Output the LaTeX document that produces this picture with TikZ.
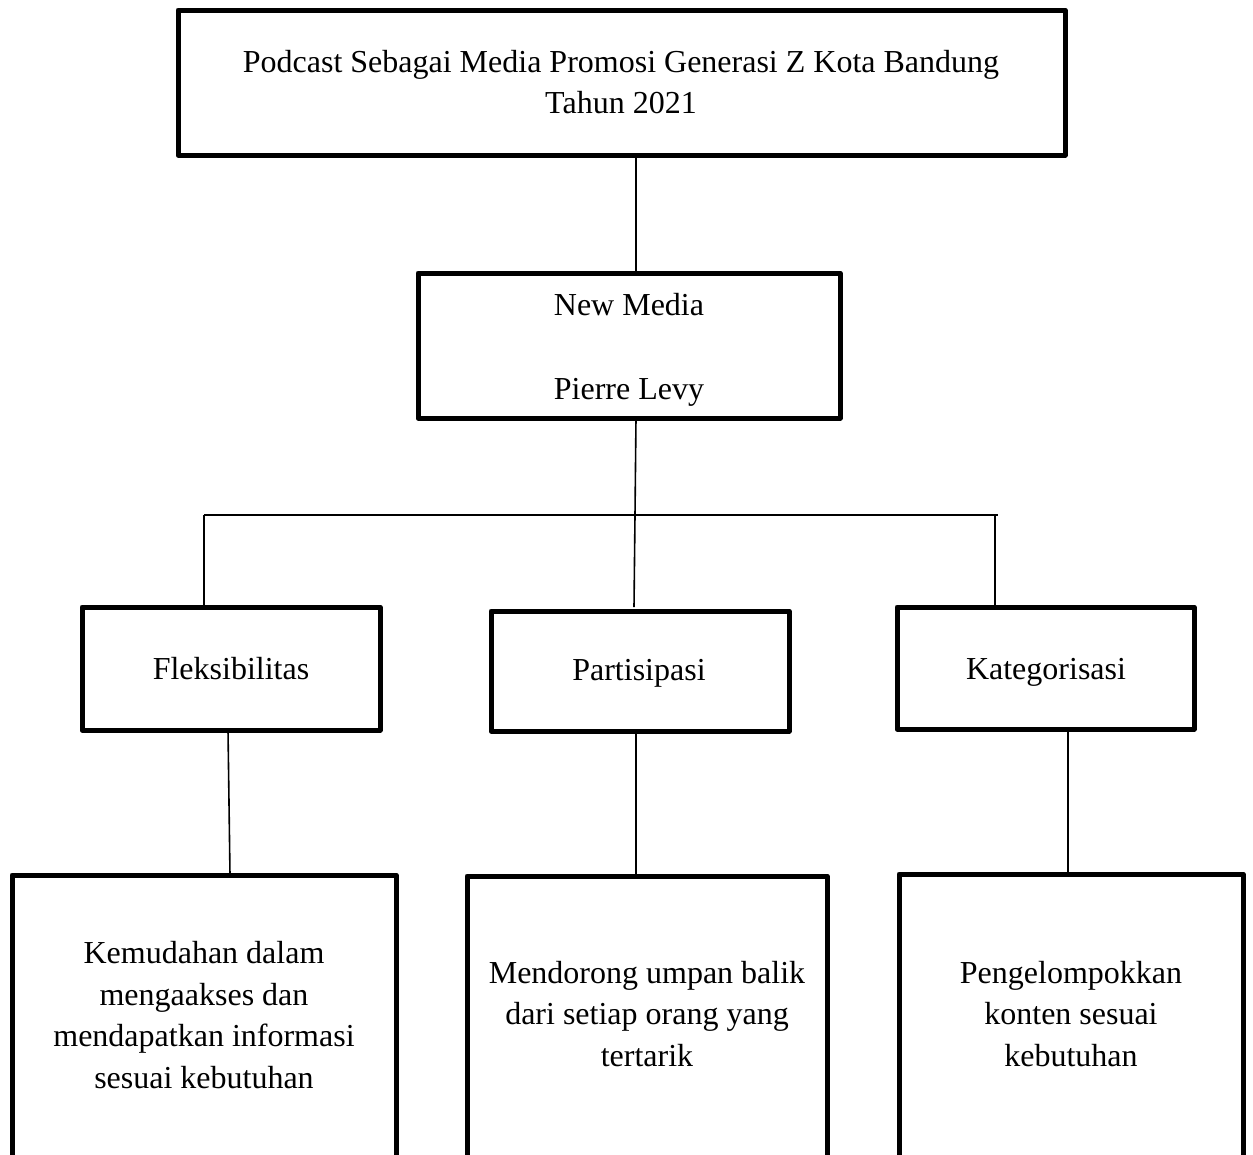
\documentclass[tikz,border=0pt]{standalone}
\usepackage{fontspec}
\setmainfont{Liberation Serif}
\begin{document}
\begin{tikzpicture}[x=1pt,y=-1pt,
  box/.style={draw,line width=5pt,line join=round},
  conn/.style={line width=1.6pt},
  txt/.style={font=\fontsize{32}{41.5}\selectfont,align=center,inner sep=0pt},
  one/.style={txt,anchor=base}]
\useasboundingbox (0,0) rectangle (1253,1154);
\begin{scope}
\clip (0,0) rectangle (1253,1154);
% boxes
\draw[box] (178,10) rectangle (1065,155);
\node[txt] (top) at (621,82) {Podcast Sebagai Media Promosi Generasi Z Kota Bandung\\Tahun 2021};
\draw[box] (418,273) rectangle (840,418);
\node[txt] (nm) at (629,350) {New Media\\[43pt]Pierre Levy};
\draw[box] (82,607) rectangle (380,730);
\node[one] (fl) at (231,679) {Fleksibilitas};
\draw[box] (491,611) rectangle (789,731);
\node[one] (pa) at (639,680) {Partisipasi};
\draw[box] (897,607) rectangle (1194,729);
\node[one] (ka) at (1046,679) {Kategorisasi};
\draw[box] (12,875) rectangle (396,1200);
\node[txt] (b1) at (204,1015) {Kemudahan dalam\\mengaakses dan\\mendapatkan informasi\\sesuai kebutuhan};
\draw[box] (467,876) rectangle (827,1200);
\node[txt] (b2) at (647,1014) {Mendorong umpan balik\\dari setiap orang yang\\tertarik};
\draw[box] (899,874) rectangle (1243,1200);
\node[txt] (b3) at (1071,1014) {Pengelompokkan\\konten sesuai\\kebutuhan};
% connectors
\coordinate (t1) at (636,155);
\coordinate (t2) at (636,273);
\draw[conn] (t1) -- (t2);
\coordinate (n1) at (636,418);
\coordinate (hc) at (635,515);
\coordinate (hl) at (204,515);
\coordinate (hr) at (998,515);
\coordinate (pl) at (204,607);
\coordinate (pm) at (634,607);
\coordinate (pr) at (995,606);
\coordinate (hr2) at (995,515);
\draw[conn] (n1) -- (hc) -- (pm);
\draw[conn] (hl) -- (hr);
\draw[conn] (hl) -- (pl);
\draw[conn] (hr2) -- (pr);
\coordinate (f1) at (228,730);
\coordinate (f2) at (230,875);
\draw[conn] (f1) -- (f2);
\coordinate (p1) at (636,731);
\coordinate (p2) at (636,876);
\draw[conn] (p1) -- (p2);
\coordinate (k1) at (1068,729);
\coordinate (k2) at (1068,874);
\draw[conn] (k1) -- (k2);
\end{scope}
\end{tikzpicture}
\end{document}
